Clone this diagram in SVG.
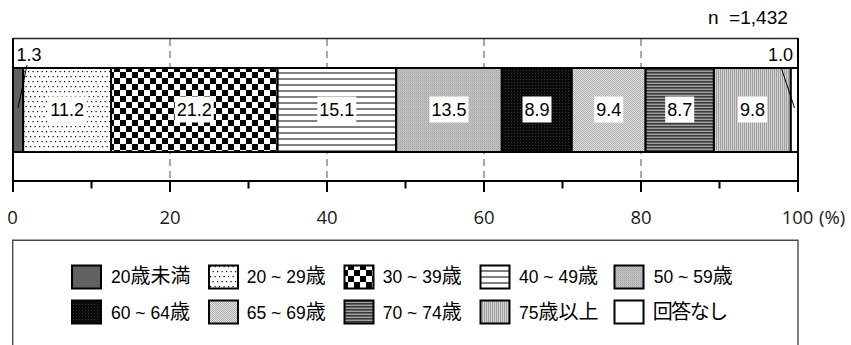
<svg xmlns="http://www.w3.org/2000/svg" width="851" height="345" viewBox="0 0 851 345">
<style>
.num{font-family:"Liberation Sans",Arial,sans-serif;font-size:18px;fill:#000}
.tick{font-family:"Open Sans","Noto Sans",sans-serif;font-size:18.5px;fill:#1a1a1a;text-anchor:middle}
.lg{font-family:"Liberation Sans","Noto Sans CJK JP",sans-serif;font-size:17.5px;fill:#000}
.k{font-family:"Noto Sans CJK JP",sans-serif;font-size:20px}
.seg{stroke:#000;stroke-width:2}
.box{fill:#fff}
.sw{stroke:#000;stroke-width:2}
.grid{stroke:#7a7a7a;stroke-width:1.3;stroke-dasharray:7 5;fill:none}
.ax{stroke:#000;stroke-width:2;fill:none}
</style>
<defs>
<pattern id="pDot" patternUnits="userSpaceOnUse" width="9" height="10">
<rect width="9" height="10" fill="#fff"/>
<rect x="1" y="1" width="1.2" height="1.2" fill="#000"/>
<rect x="5.5" y="1" width="1.2" height="1.2" fill="#000"/>
<rect x="3" y="6" width="1.2" height="1.2" fill="#000"/>
<rect x="7.5" y="6" width="1.2" height="1.2" fill="#000"/>
</pattern>
<pattern id="pCheck" patternUnits="userSpaceOnUse" width="12" height="12">
<rect width="12" height="12" fill="#fff"/>
<rect width="6" height="6" fill="#000"/>
<rect x="6" y="6" width="6" height="6" fill="#000"/>
</pattern>
<pattern id="pHStripe" patternUnits="userSpaceOnUse" width="6" height="6">
<rect width="6" height="6" fill="#fff"/>
<rect width="6" height="2" fill="#808080"/>
</pattern>
<pattern id="pDiag" patternUnits="userSpaceOnUse" width="2" height="2">
<rect width="2" height="2" fill="#c4c4c4"/>
<rect width="1" height="1" fill="#a4a4a4"/>
<rect x="1" y="1" width="1" height="1" fill="#b4b4b4"/>
</pattern>
<pattern id="pDark" patternUnits="userSpaceOnUse" width="3" height="3">
<rect width="3" height="3" fill="#0a0a0a"/>
<rect x="1" y="1" width="1" height="1" fill="#363636"/>
</pattern>
<pattern id="pLight" patternUnits="userSpaceOnUse" width="2" height="2">
<rect width="2" height="2" fill="#e4e4e4"/>
<rect width="1" height="1" fill="#acacac"/>
<rect x="1" y="1" width="1" height="1" fill="#acacac"/>
</pattern>
<pattern id="pHFine" patternUnits="userSpaceOnUse" width="3" height="3">
<rect width="3" height="3" fill="#a0a0a0"/>
<rect width="3" height="1.6" fill="#3a3a3a"/>
</pattern>
<pattern id="pVFine" patternUnits="userSpaceOnUse" width="2" height="2">
<rect width="2" height="2" fill="#d2d2d2"/>
<rect width="1" height="2" fill="#a0a0a0"/>
</pattern>
</defs>

<rect width="851" height="345" fill="#fff"/>

<text class="num" x="708" y="23.5" style="white-space:pre;font-size:19px">n  =1,432</text>

<g id="frame">
<line class="grid" x1="170" y1="39" x2="170" y2="181"/>
<line class="grid" x1="327" y1="39" x2="327" y2="181"/>
<line class="grid" x1="484" y1="39" x2="484" y2="181"/>
<line class="grid" x1="641" y1="39" x2="641" y2="181"/>
<line x1="13" y1="38.5" x2="798" y2="38.5" stroke="#222" stroke-width="1.5"/>
</g>

<g id="bar">
<g id="seg-u20"><rect class="seg" x="13" y="68" width="10.2" height="84" fill="#626262"/></g>
<g id="seg-20s"><rect class="seg" x="23.2" y="68" width="87.9" height="84" fill="url(#pDot)"/><rect class="box" x="47.7" y="96.5" width="39" height="26"/><text class="num" x="67.2" y="116" text-anchor="middle">11.2</text></g>
<g id="seg-30s"><rect class="seg" x="111.1" y="68" width="166.5" height="84" fill="url(#pCheck)"/><rect class="box" x="174.8" y="96.5" width="39" height="26"/><text class="num" x="194.3" y="116" text-anchor="middle">21.2</text></g>
<g id="seg-40s"><rect class="seg" x="277.6" y="68" width="118.6" height="84" fill="url(#pHStripe)"/><rect class="box" x="317.3" y="96.5" width="39" height="26"/><text class="num" x="336.8" y="116" text-anchor="middle">15.1</text></g>
<g id="seg-50s"><rect class="seg" x="396.2" y="68" width="105.6" height="84" fill="url(#pDiag)"/><rect class="box" x="429.5" y="96.5" width="39" height="26"/><text class="num" x="449" y="116" text-anchor="middle">13.5</text></g>
<g id="seg-60s"><rect class="seg" x="501.8" y="68" width="70" height="84" fill="url(#pDark)"/><rect class="box" x="522.5" y="96.5" width="29" height="26"/><text class="num" x="537" y="116" text-anchor="middle">8.9</text></g>
<g id="seg-65s"><rect class="seg" x="571.8" y="68" width="73.8" height="84" fill="url(#pLight)"/><rect class="box" x="594.2" y="96.5" width="29" height="26"/><text class="num" x="608.7" y="116" text-anchor="middle">9.4</text></g>
<g id="seg-70s"><rect class="seg" x="645.6" y="68" width="68.3" height="84" fill="url(#pHFine)"/><rect class="box" x="665.2" y="96.5" width="29" height="26"/><text class="num" x="679.7" y="116" text-anchor="middle">8.7</text></g>
<g id="seg-75s"><rect class="seg" x="713.9" y="68" width="76.9" height="84" fill="url(#pVFine)"/><rect class="box" x="738" y="96.5" width="29" height="26"/><text class="num" x="752.5" y="116" text-anchor="middle">9.8</text></g>
<g id="seg-na"><rect class="seg" x="790.8" y="68" width="7.2" height="84" fill="#fff"/></g>
</g>

<g id="connectors">
<line x1="27" y1="65" x2="18" y2="108" stroke="#000" stroke-width="1"/>
<line x1="781" y1="67" x2="794.5" y2="108" stroke="#000" stroke-width="1"/>
</g>
<text class="num" x="16.5" y="61">1.3</text>
<text class="num" x="793" y="61" text-anchor="end">1.0</text>

<g id="axis">
<line class="ax" x1="13" y1="38" x2="13" y2="192" stroke-width="2.2"/>
<line class="ax" x1="798" y1="38" x2="798" y2="192"/>
<line class="ax" x1="12" y1="181" x2="799" y2="181"/>
<path class="ax" d="M170 181V192M327 181V192M484 181V192M641 181V192M91.5 181V188.5M248.5 181V188.5M405.5 181V188.5M562.5 181V188.5M719.5 181V188.5"/>
<text class="tick" x="12.5" y="224">0</text>
<text class="tick" x="170" y="224">20</text>
<text class="tick" x="327" y="224">40</text>
<text class="tick" x="484" y="224">60</text>
<text class="tick" x="641" y="224">80</text>
<text class="tick" x="797.5" y="224">100</text>
<text class="tick" x="819" y="224" style="text-anchor:start">(%)</text>
</g>

<g id="legend">
<path d="M12.7 350V240.2H798V350" fill="none" stroke="#4a4a4a" stroke-width="1.4"/>
<g id="lg-u20"><rect class="sw" x="72" y="265.5" width="29" height="23" fill="#626262"/><text class="lg" x="111" y="283.3">20<tspan class="k">歳未満</tspan></text></g>
<g id="lg-20s"><rect class="sw" x="209" y="265.5" width="29" height="23" fill="url(#pDot)"/><text class="lg" x="246.8" y="283.3">20 ~ 29<tspan class="k">歳</tspan></text></g>
<g id="lg-30s"><rect class="sw" x="344.5" y="265.5" width="29" height="23" fill="url(#pCheck)"/><text class="lg" x="382.8" y="283.3">30 ~ 39<tspan class="k">歳</tspan></text></g>
<g id="lg-40s"><rect class="sw" x="480.5" y="265.5" width="29" height="23" fill="url(#pHStripe)"/><text class="lg" x="519" y="283.3">40 ~ 49<tspan class="k">歳</tspan></text></g>
<g id="lg-50s"><rect class="sw" x="614.5" y="265.5" width="29" height="23" fill="url(#pDiag)"/><text class="lg" x="653.8" y="283.3">50 ~ 59<tspan class="k">歳</tspan></text></g>
<g id="lg-60s"><rect class="sw" x="72" y="300.5" width="29" height="23" fill="url(#pDark)"/><text class="lg" x="111" y="319.3">60 ~ 64<tspan class="k">歳</tspan></text></g>
<g id="lg-65s"><rect class="sw" x="209" y="300.5" width="29" height="23" fill="url(#pLight)"/><text class="lg" x="246.8" y="319.3">65 ~ 69<tspan class="k">歳</tspan></text></g>
<g id="lg-70s"><rect class="sw" x="344.5" y="300.5" width="29" height="23" fill="url(#pHFine)"/><text class="lg" x="382.8" y="319.3">70 ~ 74<tspan class="k">歳</tspan></text></g>
<g id="lg-75s"><rect class="sw" x="480.5" y="300.5" width="29" height="23" fill="url(#pVFine)"/><text class="lg" x="519" y="319.3">75<tspan class="k">歳以上</tspan></text></g>
<g id="lg-na"><rect class="sw" x="614.5" y="300.5" width="29" height="23" fill="#fff"/><text class="lg" x="652.8" y="319.3"><tspan class="k" letter-spacing="-1.5">回答なし</tspan></text></g>
</g>
</svg>
